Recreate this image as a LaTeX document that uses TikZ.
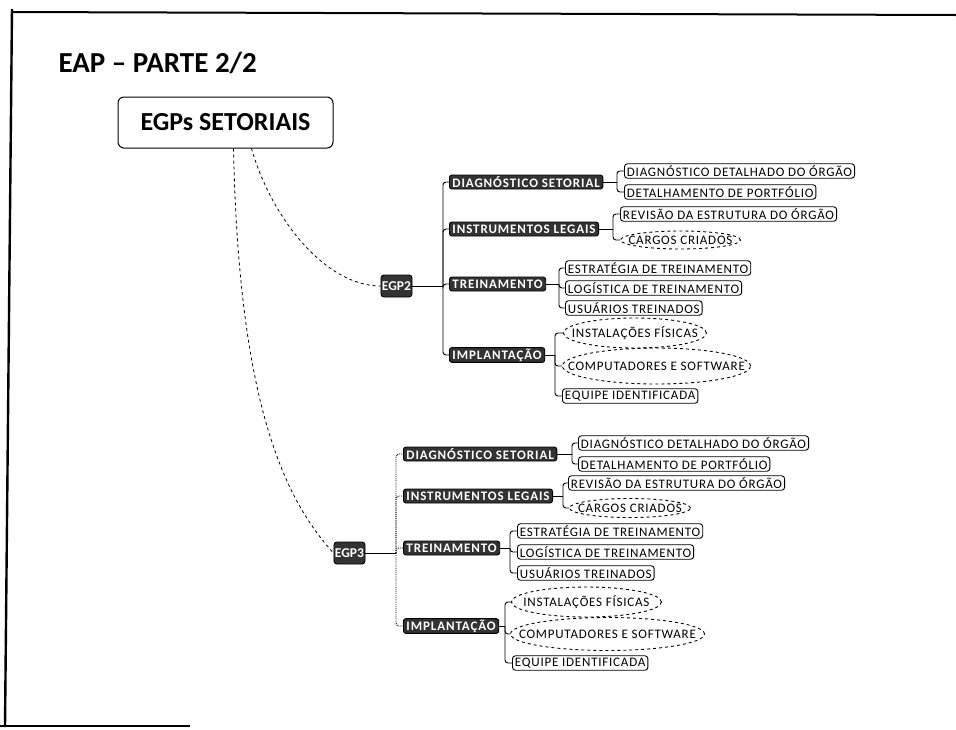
\documentclass[tikz,border=0pt]{standalone}
\usepackage{fontspec}
\setmainfont{Carlito}
\newfontfamily\leaffont[LetterSpace=6]{Carlito}
\newfontfamily\midfont[LetterSpace=7]{Carlito}
\usetikzlibrary{shapes.geometric}

\begin{document}
\begin{tikzpicture}[x=1pt,y=-1pt,
  frameline/.style={line width=2.4pt, black},
  rootbox/.style={draw, rounded corners=6pt, line width=1pt, minimum width=215pt,
    minimum height=51pt, font=\bfseries\fontsize{26}{30}\selectfont},
  egpbox/.style={draw, line width=0.9pt, fill=black!80, text=white, rounded corners=3pt,
    minimum width=31pt, minimum height=22pt, inner sep=1pt,
    font=\bfseries\fontsize{13.5}{15}\selectfont},
  midbox/.style={draw, line width=0.9pt, fill=black!80, text=white, rounded corners=2.5pt,
    minimum height=14pt, inner xsep=3pt, inner ysep=1pt, anchor=west,
    font=\midfont\bfseries\fontsize{13}{15}\selectfont},
  leaf/.style={draw, line width=0.9pt, rounded corners=3pt, minimum height=14.5pt,
    inner xsep=2.5pt, inner ysep=1pt, anchor=west,
    font=\leaffont\fontsize{13}{15}\selectfont},
  oval/.style 2 args={draw, dashed, line width=0.9pt, ellipse, inner sep=0pt,
    minimum width=#1, minimum height=#2, anchor=west,
    font=\leaffont\fontsize{13}{15}\selectfont},
  link/.style={line width=0.9pt, rounded corners=3pt},
  rootlink/.style={line width=0.8pt, dashed},
]
\useasboundingbox (0,0) rectangle (956,729);

% slide frame
\draw[frameline] (12,9) -- (5,727);
\draw[frameline, line width=2pt] (11,12) -- (956,15);
\draw[frameline, line width=2pt] (0,726) -- (190,726);

% title and root
\node[anchor=base west, font=\bfseries\fontsize{29}{34}\selectfont] (title) at (55,72) {EAP – PARTE 2/2};
\node[rootbox] (root) at (225.5,122.5) {EGPs SETORIAIS};

% second level
\node[egpbox] (egp2) at (396.5,286) {EGP2};
\node[egpbox] (egp3) at (349.5,553) {EGP3};

\draw[rootlink] ([xshift=26pt]root.south) .. controls +(20,70) and +(-55,0) .. (egp2.west);
\draw[rootlink] ([xshift=8pt]root.south) .. controls +(5,240) and +(-55,-60) .. (egp3.west);

% EGP2 branches
\node[midbox] (d2) at (449,182) {DIAGNÓSTICO SETORIAL};
\node[midbox] (i2) at (449,229) {INSTRUMENTOS LEGAIS};
\node[midbox] (t2) at (449,284) {TREINAMENTO};
\node[midbox] (p2) at (449,355) {IMPLANTAÇÃO};

\coordinate (e2j) at (443,286);
\draw[link] (egp2.east) -- (e2j);
\foreach \n in {d2,i2,t2,p2} \draw[link] (e2j) |- (\n.west);

% EGP2 leaves
\node[leaf] (d2a) at (624,171) {DIAGNÓSTICO DETALHADO DO ÓRGÃO};
\node[leaf] (d2b) at (624,192) {DETALHAMENTO DE PORTFÓLIO};
\node[leaf] (i2a) at (620,214) {REVISÃO DA ESTRUTURA DO ÓRGÃO};
\node[oval={120pt}{18pt}] (i2b) at (620,240) {\makebox[0pt]{CARGOS CRIADOS}};
\node[leaf] (t2a) at (565,268) {ESTRATÉGIA DE TREINAMENTO};
\node[leaf] (t2b) at (565,288) {LOGÍSTICA DE TREINAMENTO};
\node[leaf] (t2c) at (565,308) {USUÁRIOS TREINADOS};
\node[oval={143pt}{30pt}] (p2a) at (563,333) {\makebox[0pt]{INSTALAÇÕES FÍSICAS}};
\node[oval={188pt}{36pt}] (p2b) at (562,366) {\makebox[0pt]{COMPUTADORES E SOFTWARE}};
\node[leaf] (p2c) at (562,396) {EQUIPE IDENTIFICADA};

\coordinate (d2j) at (617,182);
\draw[link] (d2.east) -- (d2j);
\foreach \n in {d2a,d2b} \draw[link] (d2j) |- (\n.west);
\coordinate (i2j) at (613,229);
\draw[link] (i2.east) -- (i2j);
\foreach \n in {i2a,i2b} \draw[link] (i2j) |- (\n.west);
\coordinate (t2j) at (559,284);
\draw[link] (t2.east) -- (t2j);
\foreach \n in {t2a,t2b,t2c} \draw[link] (t2j) |- (\n.west);
\coordinate (p2j) at (555,355);
\draw[link] (p2.east) -- (p2j);
\foreach \n in {p2a,p2b,p2c} \draw[link] (p2j) |- (\n.west);

% EGP3 branches
\node[midbox] (d3) at (403,454) {DIAGNÓSTICO SETORIAL};
\node[midbox] (i3) at (403,496) {INSTRUMENTOS LEGAIS};
\node[midbox] (t3) at (403,548) {TREINAMENTO};
\node[midbox] (p3) at (403,626) {IMPLANTAÇÃO};

\coordinate (e3j) at (396,553);
\draw[link] (egp3.east) -- (e3j);
\foreach \n in {d3,i3,t3,p3} \draw[link, densely dotted] (e3j) |- (\n.west);

% EGP3 leaves
\node[leaf] (d3a) at (578,443) {DIAGNÓSTICO DETALHADO DO ÓRGÃO};
\node[leaf] (d3b) at (578,464) {DETALHAMENTO DE PORTFÓLIO};
\node[leaf] (i3a) at (568,483) {REVISÃO DA ESTRUTURA DO ÓRGÃO};
\node[oval={121pt}{19pt}] (i3b) at (569,508) {\makebox[0pt]{CARGOS CRIADOS}};
\node[leaf] (t3a) at (517,531) {ESTRATÉGIA DE TREINAMENTO};
\node[leaf] (t3b) at (517,552) {LOGÍSTICA DE TREINAMENTO};
\node[leaf] (t3c) at (517,573) {USUÁRIOS TREINADOS};
\node[oval={150pt}{30pt}] (p3a) at (511,602) {\makebox[0pt]{INSTALAÇÕES FÍSICAS}};
\node[oval={194pt}{33pt}] (p3b) at (510,634) {\makebox[0pt]{COMPUTADORES E SOFTWARE}};
\node[leaf] (p3c) at (512,663) {EQUIPE IDENTIFICADA};

\coordinate (d3j) at (572,454);
\draw[link] (d3.east) -- (d3j);
\foreach \n in {d3a,d3b} \draw[link] (d3j) |- (\n.west);
\coordinate (i3j) at (563,496);
\draw[link] (i3.east) -- (i3j);
\foreach \n in {i3a,i3b} \draw[link] (i3j) |- (\n.west);
\coordinate (t3j) at (510,548);
\draw[link] (t3.east) -- (t3j);
\foreach \n in {t3a,t3b,t3c} \draw[link] (t3j) |- (\n.west);
\coordinate (p3j) at (505,626);
\draw[link] (p3.east) -- (p3j);
\foreach \n in {p3a,p3b,p3c} \draw[link] (p3j) |- (\n.west);
\end{tikzpicture}
\end{document}
